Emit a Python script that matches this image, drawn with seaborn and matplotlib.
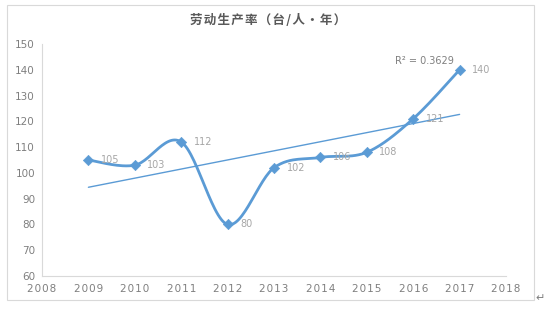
import numpy as np
import matplotlib
matplotlib.use("Agg")
import matplotlib.pyplot as plt
import seaborn as sns
import pandas as pd
from matplotlib.patches import Rectangle

years = [2009, 2010, 2011, 2012, 2013, 2014, 2015, 2016, 2017]
values = [105, 103, 112, 80, 102, 106, 108, 121, 140]
title = "劳动生产率（台/人·年）"
x_ticks = list(range(2008, 2019))
y_ticks = list(range(60, 151, 10))

sns.set_theme(style="white")
plt.rcParams['font.family'] = ['Noto Sans CJK SC', 'DejaVu Sans']

color = "#5B9BD5"
gray = "#7F7F7F"

def catmull_rom(xs, ys, n=30):
    xs = np.asarray(xs, float); ys = np.asarray(ys, float)
    px = np.concatenate([[xs[0]], xs, [xs[-1]]])
    py = np.concatenate([[ys[0]], ys, [ys[-1]]])
    outx, outy = [], []
    for i in range(1, len(px) - 2):
        p0, p1, p2, p3 = [np.array([px[j], py[j]]) for j in (i - 1, i, i + 1, i + 2)]
        c1 = p1 + (p2 - p0) / 6
        c2 = p2 - (p3 - p1) / 6
        t = np.linspace(0, 1, n)[:, None]
        b = ((1 - t) ** 3) * p1 + 3 * ((1 - t) ** 2) * t * c1 + 3 * (1 - t) * t ** 2 * c2 + t ** 3 * p2
        outx.extend(b[:, 0]); outy.extend(b[:, 1])
    return np.array(outx), np.array(outy)

fig = plt.figure(figsize=(5.58, 3.10), dpi=100)
ax = fig.add_axes([42 / 558, 1 - 276 / 310, (506 - 42) / 558, (276 - 44) / 310])

sx, sy = catmull_rom(years, values)
smooth = pd.DataFrame({"x": sx, "y": sy})
sns.lineplot(data=smooth, x="x", y="y", ax=ax, color=color, linewidth=2.0, sort=False, estimator=None)

df = pd.DataFrame({"year": years, "value": values})
sns.scatterplot(data=df, x="year", y="value", ax=ax, marker="D", s=28, color=color, edgecolor=color, zorder=5)

# linear trend line
coef = np.polyfit(years, values, 1)
fit = np.polyval(coef, years)
r2 = 1 - np.sum((np.array(values) - fit) ** 2) / np.sum((np.array(values) - np.mean(values)) ** 2)
trend = pd.DataFrame({"x": [years[0], years[-1]], "y": [fit[0], fit[-1]]})
sns.lineplot(data=trend, x="x", y="y", ax=ax, color=color, linewidth=1.0)
ax.text(2015.6, 141.5, f"R² = {r2:.4f}", fontsize=7, color=gray, family=['DejaVu Sans'], ha="left", va="bottom")

for x, v in zip(years, values):
    ax.annotate(str(v), (x, v), xytext=(9, 0), textcoords="offset points",
                fontsize=7, color="#A6A6A6", va="center", ha="left", family=['DejaVu Sans'])

ax.set_xlim(2008, 2018)
ax.set_ylim(60, 150)
ax.set_xticks(x_ticks)
ax.set_xticklabels(["\u200a".join(str(t)) for t in x_ticks])
ax.set_yticks(y_ticks)
ax.set_xlabel("")
ax.set_ylabel("")
ax.tick_params(axis="both", labelsize=7.5, labelcolor=gray, length=0)
ax.tick_params(axis="x", pad=6)
ax.tick_params(axis="y", pad=5)
for lab in ax.get_xticklabels() + ax.get_yticklabels():
    lab.set_family(['DejaVu Sans'])
for s in ["top", "right"]:
    ax.spines[s].set_visible(False)
for s in ["left", "bottom"]:
    ax.spines[s].set_color("#D9D9D9")
    ax.spines[s].set_linewidth(0.8)
ax.patch.set_alpha(0)

fig.text(268 / 558, 1 - 20 / 310, "\u200a".join(title), ha="center", va="center", fontsize=9,
         color="#595959", fontweight="bold")

fig.patches.append(Rectangle((7 / 558, 1 - 300 / 310), (534 - 7) / 558, (300 - 5) / 310,
                             transform=fig.transFigure, fill=False, edgecolor="#D9D9D9", linewidth=0.8))
fig.text(540 / 558, 1 - 298 / 310, "↵", fontsize=8, color=gray, ha="center", va="center", family=['DejaVu Sans'])

fig.savefig("out.png", dpi=100)
